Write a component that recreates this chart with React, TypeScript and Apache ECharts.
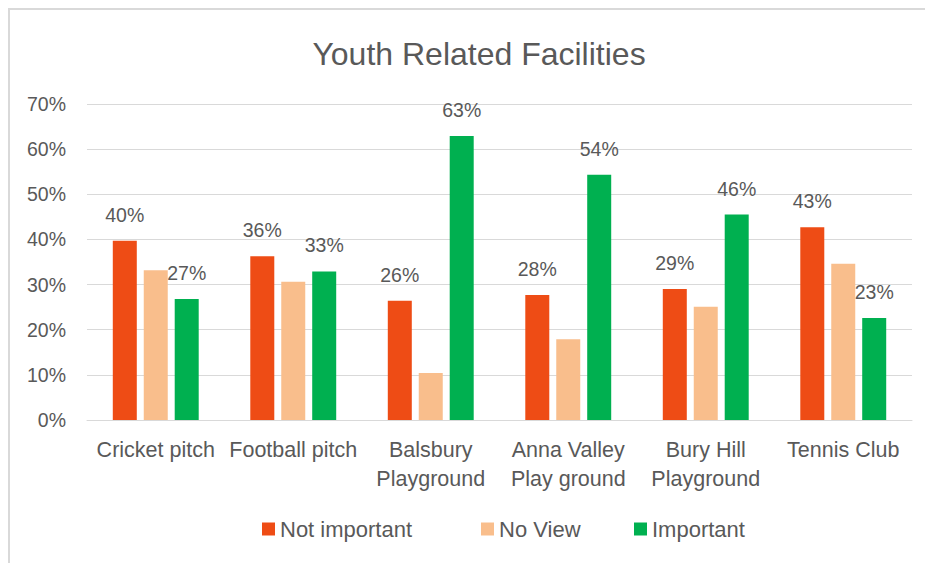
import React, { useEffect, useRef } from "react";
import * as echarts from "echarts";

const categories = [
  "Cricket pitch",
  "Football pitch",
  "Balsbury\nPlayground",
  "Anna Valley\nPlay ground",
  "Bury Hill\nPlayground",
  "Tennis Club",
];
const notImportant = [39.7, 36.3, 26.4, 27.7, 29.0, 42.7];
const noView = [33.2, 30.6, 10.4, 17.9, 25.1, 34.6];
const important = [26.8, 32.9, 62.9, 54.3, 45.5, 22.6];
const seriesNames = ["Not important", "No View", "Important"];
const yTicks = [0, 10, 20, 30, 40, 50, 60, 70];

const FONT = "'Liberation Sans', Arial, sans-serif";
const TEXT = "#595959";
const legendLefts = [257, 476, 629];

export default function App() {
  const ref = useRef<HTMLDivElement>(null);
  useEffect(() => {
    if (!ref.current) return;
    const chart = echarts.init(ref.current, null, { renderer: "svg" });
    const label = {
      show: true,
      position: "top",
      distance: 16,
      color: TEXT,
      fontSize: 19.5,
      fontFamily: FONT,
      formatter: (p: any) => Math.round(p.value) + "%",
    };
    chart.setOption({
      animation: false,
      backgroundColor: "#ffffff",
      textStyle: { fontFamily: FONT },
      title: {
        text: "Youth Related Facilities",
        left: 474,
        textAlign: "center",
        top: 33,
        textStyle: { color: TEXT, fontSize: 32, fontWeight: "normal", fontFamily: FONT },
      },
      graphic: [
        {
          type: "rect",
          shape: { x: 9, y: 9, width: 930, height: 570 },
          style: { fill: "none", stroke: "#d9d9d9", lineWidth: 2 },
          silent: true,
        },
      ],
      legend: seriesNames.map((n, i) => ({
        data: [n],
        left: legendLefts[i],
        top: 513,
        itemWidth: 13,
        itemHeight: 13,
        icon: "rect",
        textStyle: { color: TEXT, fontSize: 22, fontFamily: FONT },
      })),
      grid: { left: 87, right: 13, top: 104, bottom: 143, containLabel: false },
      xAxis: {
        type: "category",
        data: categories,
        axisLine: { show: true, lineStyle: { color: "#d9d9d9", width: 1 } },
        axisTick: { show: false },
        axisLabel: {
          color: TEXT,
          fontSize: 21.5,
          fontFamily: FONT,
          margin: 15,
          lineHeight: 29,
          interval: 0,
        },
      },
      yAxis: {
        type: "value",
        min: yTicks[0],
        max: yTicks[yTicks.length - 1],
        interval: 10,
        axisLine: { show: false },
        axisTick: { show: false },
        splitLine: { lineStyle: { color: "#d9d9d9", width: 1 } },
        axisLabel: {
          color: TEXT,
          fontSize: 19.5,
          fontFamily: FONT,
          margin: 21,
          formatter: (v: number) => v + "%",
        },
      },
      series: [
        {
          name: seriesNames[0],
          type: "bar",
          data: notImportant,
          barWidth: 24,
          barGap: "29%",
          itemStyle: { color: "#EE4C15" },
          label,
        },
        {
          name: seriesNames[1],
          type: "bar",
          data: noView,
          barWidth: 24,
          barGap: "29%",
          itemStyle: { color: "#F9BE8C" },
        },
        {
          name: seriesNames[2],
          type: "bar",
          data: important,
          barWidth: 24,
          barGap: "29%",
          itemStyle: { color: "#00B050" },
          label,
        },
      ],
    });
    return () => chart.dispose();
  }, []);
  return (
    <div
      ref={ref}
      style={{ position: "absolute", left: 0, top: 0, width: 925, height: 563 }}
    />
  );
}
